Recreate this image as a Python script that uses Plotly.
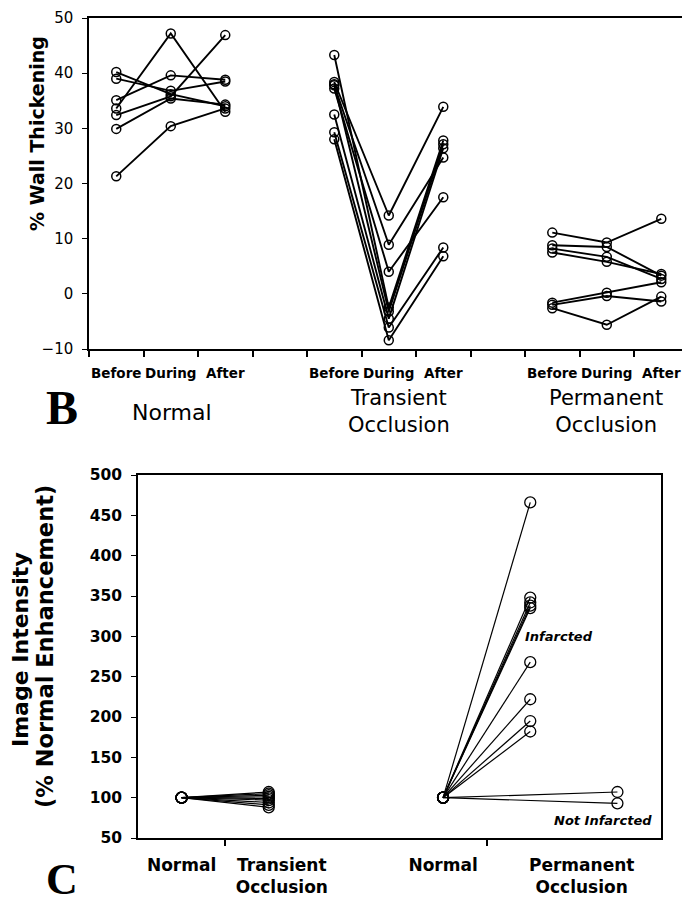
import plotly.graph_objects as go

W, H = 682, 907

# ---------------- Panel B data: % wall thickening (Before, During, After) ----------------
phases = ["Before", "During", "After"]
group_names = ["Normal", "Transient<br>Occlusion", "Permanent<br>Occlusion"]

normal_wt = [
    [40.2, 36.2, 34.0],
    [39.0, 36.8, 38.5],
    [35.1, 39.6, 38.8],
    [33.6, 47.2, 33.0],
    [32.4, 35.8, 46.9],
    [29.9, 35.4, 34.3],
    [21.3, 30.4, 33.6],
]
transient_wt = [
    [38.4, 14.2, 33.9],
    [37.8, 8.9, 24.7],
    [37.2, 4.0, 17.5],
    [43.3, -2.5, 27.8],
    [38.0, -3.2, 27.1],
    [32.5, -4.5, 26.4],
    [29.3, -6.1, 8.4],
    [28.0, -8.4, 6.8],
]
permanent_wt = [
    [11.1, 9.3, 13.6],
    [8.8, 8.5, 3.3],
    [8.2, 6.7, 2.7],
    [7.5, 5.8, 3.6],
    [-1.6, 0.2, 2.1],
    [-2.0, -0.4, -1.4],
    [-2.6, -5.6, -0.5],
]
b_yticks = [-10, 0, 10, 20, 30, 40, 50]

# ---------------- Panel C data: image intensity (% normal enhancement) ----------------
c_labels = ["Normal", "Transient<br>Occlusion", "Normal", "Permanent<br>Occlusion"]
baseline = 100
transient_vals = [107, 105, 103, 101, 99, 97, 94, 91, 88]
infarcted_vals = [466, 348, 342, 338, 335, 268, 222, 195, 182]
not_infarcted_vals = [107, 93]
c_yticks = [50, 100, 150, 200, 250, 300, 350, 400, 450, 500]

SANS = "DejaVu Sans"
SERIF = "Liberation Serif"

fig = go.Figure()

# Panel B traces
for gi, data in enumerate([normal_wt, transient_wt, permanent_wt]):
    xs = [gi * 4 + k for k in range(len(phases))]
    for row in data:
        fig.add_trace(go.Scatter(
            x=xs, y=row, mode="lines+markers", xaxis="x", yaxis="y",
            line=dict(color="black", width=1.9),
            marker=dict(symbol="circle-open", size=9, color="black",
                        line=dict(width=1.5, color="black")),
            hoverinfo="skip"))

# Panel C traces
def c_trace(x0, x1, v):
    fig.add_trace(go.Scatter(
        x=[x0, x1], y=[baseline, v], mode="lines+markers", xaxis="x2", yaxis="y2",
        line=dict(color="black", width=1.2),
        marker=dict(symbol="circle-open", size=11, color="black",
                    line=dict(width=1.3, color="black")),
        hoverinfo="skip"))


for v in transient_vals:
    c_trace(0, 1, v)
for v in infarcted_vals:
    c_trace(3, 4, v)
for v in not_infarcted_vals:
    c_trace(3, 5, v)

top_tickvals = [gi * 4 + k for gi in range(len(group_names)) for k in range(len(phases))]
top_ticktext = phases * len(group_names)
top_bounds = [i - 0.5 for i in range(12)]

fig.update_layout(
    width=W, height=H,
    margin=dict(l=0, r=0, t=0, b=0, autoexpand=False),
    paper_bgcolor="white", plot_bgcolor="white",
    showlegend=False,
    xaxis=dict(
        domain=[89 / W, 1.0], range=[-0.5, 10.38], anchor="y", automargin=False,
        tickmode="array", tickvals=top_tickvals, ticktext=top_ticktext,
        ticks="", showgrid=False, zeroline=False,
        showline=True, linecolor="black", linewidth=1.5, mirror=True,
        tickfont=dict(family=SANS, size=13.5, color="black", weight="bold"),
        ticklabelstandoff=11,
        minor=dict(tickmode="array", tickvals=top_bounds, ticks="outside",
                   ticklen=6, tickcolor="black", tickwidth=1.5, showgrid=False),
    ),
    yaxis=dict(
        domain=[1 - 349 / H, 1 - 18 / H], range=[-10, 50], anchor="x", automargin=False,
        tickmode="array", tickvals=b_yticks,
        ticks="outside", ticklen=5, tickcolor="black", tickwidth=1.2,
        showgrid=False, zeroline=False,
        showline=True, linecolor="black", linewidth=1.5,
        tickfont=dict(family=SANS, size=15, color="black"),
        ticklabelstandoff=6,
    ),
    xaxis2=dict(
        domain=[138 / W, 661 / W], range=[-0.5, 5.5], anchor="y2", automargin=False,
        tickmode="array", tickvals=[0, 1.15, 3, 4.59], ticktext=c_labels,
        ticks="", showgrid=False, zeroline=False,
        showline=True, linecolor="black", linewidth=1.5, mirror=True,
        tickfont=dict(family=SANS, size=17, color="black", weight="bold"),
        ticklabelstandoff=11,
        minor=dict(tickmode="array", tickvals=[0.5, 3.5], ticks="outside",
                   ticklen=6, tickcolor="black", tickwidth=1.5, showgrid=False),
    ),
    yaxis2=dict(
        domain=[1 - 838 / H, 1 - 475 / H], range=[50, 500], anchor="x2", automargin=False,
        tickmode="array", tickvals=c_yticks,
        ticks="outside", ticklen=5, tickcolor="black", tickwidth=1.2,
        showgrid=False, zeroline=False,
        showline=True, linecolor="black", linewidth=1.5, mirror=True,
        tickfont=dict(family=SANS, size=15.5, color="black", weight="bold"),
        ticklabelstandoff=6,
    ),
)


def ann(text, xp, yp, size, bold=False, italic=False, family=SANS, angle=0):
    fig.add_annotation(
        text=text, x=xp / W, y=1 - yp / H, xref="paper", yref="paper",
        showarrow=False, xanchor="center", yanchor="middle", textangle=angle,
        font=dict(family=family, size=size, color="black",
                  weight="bold" if bold else "normal",
                  style="italic" if italic else "normal"))


ann("% Wall Thickening", 37, 134, 19, bold=True, angle=-90)
ann("Image Intensity", 20, 650, 22, bold=True, angle=-90)
ann("(% Normal Enhancement)", 45, 647, 22.5, bold=True, angle=-90)
ann("B", 62, 407, 48, bold=True, family=SERIF)
ann("C", 62, 879, 44, bold=True, family=SERIF)
ann(group_names[0], 172, 412, 22)
ann(group_names[1], 399, 411, 21)
ann(group_names[2], 606, 411, 21)
ann("Infarcted", 559, 636, 13, bold=True, italic=True)
ann("Not Infarcted", 603, 820, 13, bold=True, italic=True)

fig.write_html(
    "out.html",
    config={"displayModeBar": False},
    post_script="document.body.style.margin='0';document.body.style.overflow='hidden';",
)
